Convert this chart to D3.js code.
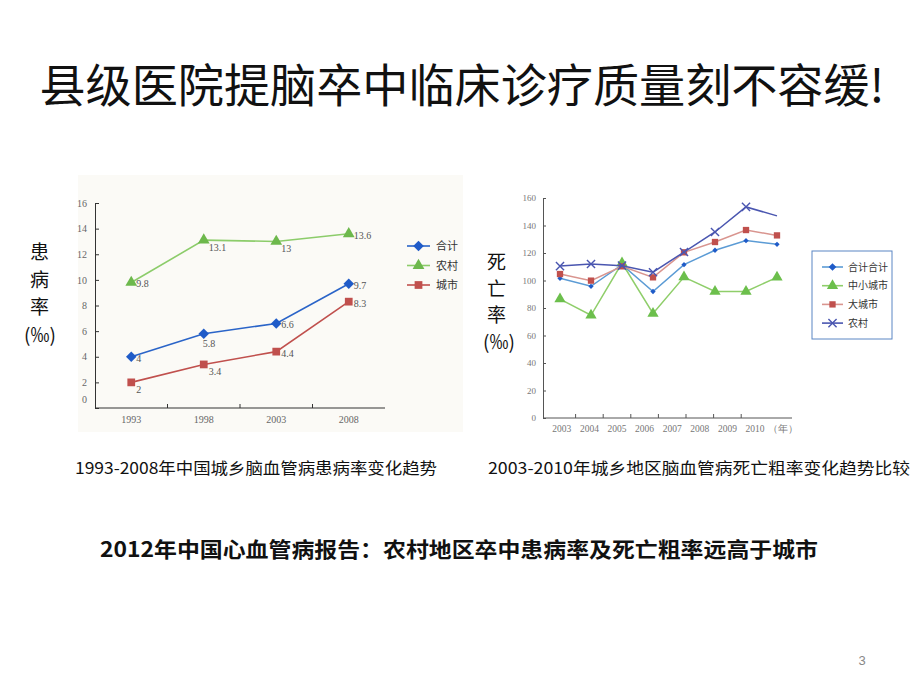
<!DOCTYPE html>
<html><head><meta charset="utf-8">
<script src="https://cdn.jsdelivr.net/npm/d3@7/dist/d3.min.js"></script>
<style>body{margin:0;background:#fff}svg{display:block}</style>
</head><body>
<svg id="c" width="920" height="690"></svg>
<script>
// ---------- data ----------
const leftYears = ["1993","1998","2003","2008"];
const leftTotal = [4, 5.8, 6.6, 9.7];
const leftRural = [9.8, 13.1, 13, 13.6];
const leftUrban = [2, 3.4, 4.4, 8.3];
const leftYTicks = [0,2,4,6,8,10,12,14,16];
const leftNames = ["合计","农村","城市"];

const rightYears = ["2003","2004","2005","2006","2007","2008","2009","2010"];
const rightXLabels = ["2003","2004","2005","2006","2007","2008","2009","2010","（年）"];
const rightTotal = [101.6, 95.8, 111.5, 92, 111.5, 122, 129, 126.3];
const rightSmall = [86.5, 74.7, 112.7, 76, 102.5, 92, 92, 102.3];
const rightLarge = [104.7, 99.9, 110.3, 102.3, 120.5, 128, 136.7, 132.8];
const rightRural = [110.5, 112, 110.8, 106, 120.7, 135.3, 153.5, 147];
const rightYTicks = [0,20,40,60,80,100,120,140,160];
const rightNames = ["合计合计","中小城市","大城市","农村"];

const titleText = "县级医院提脑卒中临床诊疗质量刻不容缓!";
const capLeft = "1993-2008年中国城乡脑血管病患病率变化趋势";
const capRight = "2003-2010年城乡地区脑血管病死亡粗率变化趋势比较";
const bottomText = "2012年中国心血管病报告：农村地区卒中患病率及死亡粗率远高于城市";
const yLabelLeft = ["患","病","率","(‰)"];
const yLabelRight = ["死","亡","率","(‰)"];
const pageNum = "3";

// ---------- drawing ----------
const svg = d3.select("#c");
const CJK = "'Noto Sans CJK SC','Noto Sans',sans-serif";
const SERIF = "'Liberation Serif','DejaVu Serif',serif";

svg.append("text").attr("x", 462).attr("y", 102).attr("text-anchor","middle")
  .attr("font-family", CJK).attr("font-size", 46).attr("font-weight", 400)
  .attr("fill","#111").attr("textLength", 845).attr("lengthAdjust","spacingAndGlyphs")
  .text(titleText);

// rotated-square diamond
const diamondPath = sz => d3.symbol().type(d3.symbolSquare).size(sz)();

// ===== left chart =====
svg.append("rect").attr("x",78).attr("y",175).attr("width",385).attr("height",257).attr("fill","#fbfaf6");
const lx = d3.scaleBand().domain(leftYears).range([95,385]).paddingInner(0);
const ly = d3.scaleLinear().domain([0,16]).range([408,203]);
const lg = svg.append("g");
const lyAxis = lg.append("g").attr("transform","translate(95,0)")
  .call(d3.axisLeft(ly).tickValues(leftYTicks).tickSizeInner(-4).tickSizeOuter(0).tickPadding(8));
lyAxis.selectAll("text").attr("font-family",SERIF).attr("font-size",10).attr("fill","#666")
  .attr("dy", d => d===0 ? "-0.6em" : "0.32em");
lyAxis.selectAll("line,path").attr("stroke","#333");
const lxAxis = lg.append("g").attr("transform","translate(0,408)")
  .call(d3.axisBottom(lx).tickSize(0).tickPadding(8));
lxAxis.selectAll("text").attr("font-family",SERIF).attr("font-size",10).attr("fill","#666");
lxAxis.select("path").attr("stroke","#333").attr("d","M95,0H385");
lg.selectAll(".xsep").data(leftYears.slice(1)).enter().append("line")
  .attr("x1", d=>lx(d)).attr("x2", d=>lx(d)).attr("y1",404).attr("y2",408).attr("stroke","#333");

const leftSeries = [
  {name:leftNames[0], vals:leftTotal, line:"#2a64c8", mark:"#1f5bc8", dia:true, sym:d3.symbolSquare, size:55},
  {name:leftNames[1], vals:leftRural, line:"#8ccc6a", mark:"#6db84c", dia:false, sym:d3.symbolTriangle, size:60},
  {name:leftNames[2], vals:leftUrban, line:"#c0504d", mark:"#c0504d", dia:false, sym:d3.symbolSquare, size:60}
];
// label placement: r = right, b = below, q = below-right
const leftPlace = [["r","b","r","r"],["r","q","q","r"],["q","q","r","r"]];
const offX = {r:5, b:-1, q:5}, offY = {r:5, b:13, q:11};
const lcx = d => lx(d) + lx.bandwidth()/2;
leftSeries.forEach((s,si) => {
  const pts = leftYears.map((y,i)=>[lcx(y), ly(s.vals[i])]);
  lg.append("path").attr("d", d3.line()(pts)).attr("fill","none").attr("stroke",s.line).attr("stroke-width",1.6);
  const rot = s.dia ? " rotate(45)" : "";
  lg.selectAll(null).data(pts).enter().append("path")
    .attr("transform", p=>`translate(${p[0]},${p[1]})${rot}`)
    .attr("d", d3.symbol().type(s.sym).size(s.size)).attr("fill",s.mark);
  lg.selectAll(null).data(pts).enter().append("text")
    .attr("x", (p,i)=> p[0] + offX[leftPlace[si][i]])
    .attr("y", (p,i)=> p[1] + offY[leftPlace[si][i]])
    .attr("font-family",SERIF).attr("font-size",10).attr("fill","#555")
    .text((p,i)=> s.vals[i]);
  // legend
  const ly0 = 246 + si*19.5;
  lg.append("line").attr("x1",407).attr("x2",430).attr("y1",ly0).attr("y2",ly0).attr("stroke",s.line).attr("stroke-width",1.6);
  lg.append("path").attr("transform",`translate(418.5,${ly0})${rot}`).attr("d", d3.symbol().type(s.sym).size(s.size)).attr("fill",s.mark);
  lg.append("text").attr("x",436).attr("y",ly0+4).attr("font-family",CJK).attr("font-size",11).attr("fill","#333").text(s.name);
});

// ===== right chart =====
const rxl = d3.scaleBand().domain(rightXLabels).range([548,796.4]).paddingInner(0);
const rx = d3.scalePoint().domain(rightYears).range([560,777]);
const ry = d3.scaleLinear().domain([0,160]).range([418,198]);
const rg = svg.append("g");
const ryAxis = rg.append("g").attr("transform","translate(543,0)")
  .call(d3.axisLeft(ry).tickValues(rightYTicks).tickSizeInner(-3).tickSizeOuter(0).tickPadding(7));
ryAxis.selectAll("text").attr("font-family",SERIF).attr("font-size",9).attr("fill","#777");
ryAxis.selectAll("line,path").attr("stroke","#555");
const rxAxis = rg.append("g").attr("transform","translate(0,418)")
  .call(d3.axisBottom(rxl).tickSize(0).tickPadding(7));
rxAxis.selectAll("text").attr("font-family",SERIF).attr("font-size",9.5).attr("fill","#777");
rxAxis.select("path").attr("stroke","#555").attr("d","M543,0H792");
rg.selectAll(".xsep").data(rightXLabels.slice(1,8)).enter().append("line")
  .attr("x1", d=>rxl(d)).attr("x2", d=>rxl(d)).attr("y1",414).attr("y2",418).attr("stroke","#555");

const rightSeries = [
  {name:rightNames[0], vals:rightTotal, line:"#5b9bd5", mark:"#1f5bc8", dia:true, sym:d3.symbolSquare, size:14},
  {name:rightNames[1], vals:rightSmall, line:"#8fce6a", mark:"#6cbf4c", dia:false, sym:d3.symbolTriangle, size:55},
  {name:rightNames[2], vals:rightLarge, line:"#d9958f", mark:"#c0504d", dia:false, sym:d3.symbolSquare, size:40},
  {name:rightNames[3], vals:rightRural, line:"#4a56b0", mark:"#4a56b0", dia:false, sym:d3.symbolX, size:45}
];
rightSeries.forEach((s,si) => {
  const pts = rightYears.map((y,i)=>[rx(y), ry(s.vals[i])]);
  rg.append("path").attr("d", d3.line()(pts)).attr("fill","none").attr("stroke",s.line).attr("stroke-width",1.5);
  const mpts = si===3 ? pts.slice(0,7) : pts;
  const rot = s.dia ? " rotate(45)" : "";
  rg.selectAll(null).data(mpts).enter().append("path")
    .attr("transform", p=>`translate(${p[0]},${p[1]})${rot}`)
    .attr("d", d3.symbol().type(s.sym).size(s.size))
    .attr("fill", si===3 ? "none" : s.mark).attr("stroke", si===3 ? s.mark : "none").attr("stroke-width",1.4);
});
// legend
rg.append("rect").attr("x",812).attr("y",251).attr("width",80).attr("height",88).attr("fill","#fff").attr("stroke","#5a86c4").attr("stroke-width",1);
rightSeries.forEach((s,si) => {
  const y0 = 267 + si*18.7;
  const rot = s.dia ? " rotate(45)" : "";
  rg.append("line").attr("x1",822).attr("x2",843).attr("y1",y0).attr("y2",y0).attr("stroke",s.line).attr("stroke-width",1.6);
  rg.append("path").attr("transform",`translate(832.5,${y0})${rot}`)
    .attr("d", d3.symbol().type(s.sym).size(si===0?30:s.size))
    .attr("fill", si===3 ? "none" : s.mark).attr("stroke", si===3 ? s.mark : "none").attr("stroke-width",1.4);
  rg.append("text").attr("x",848).attr("y",y0+3.5).attr("font-family",CJK).attr("font-size",10).attr("fill","#333").text(s.name);
});

// y labels
yLabelLeft.forEach((t,i)=>{
  svg.append("text").attr("x", i<3?30:24).attr("y", 259 + i*27.5).attr("font-family",CJK).attr("font-size",19).attr("fill","#111").text(t);
});
yLabelRight.forEach((t,i)=>{
  svg.append("text").attr("x", i<3?487:483).attr("y", 269 + i*26.5).attr("font-family",CJK).attr("font-size",19).attr("fill","#111").text(t);
});

// captions
svg.append("text").attr("x",75).attr("y",474).attr("font-family",CJK).attr("font-size",16).attr("fill","#111")
  .attr("textLength",362).attr("lengthAdjust","spacingAndGlyphs").text(capLeft);
svg.append("text").attr("x",488).attr("y",474).attr("font-family",CJK).attr("font-size",16).attr("fill","#111")
  .attr("textLength",422).attr("lengthAdjust","spacingAndGlyphs").text(capRight);
svg.append("text").attr("x",100).attr("y",557).attr("font-family",CJK).attr("font-size",21).attr("font-weight",700).attr("fill","#111")
  .attr("textLength",718).attr("lengthAdjust","spacingAndGlyphs").text(bottomText);
svg.append("text").attr("x",862).attr("y",665).attr("text-anchor","middle").attr("font-family","'Liberation Sans',sans-serif").attr("font-size",13).attr("fill","#888").text(pageNum);
</script>
</body></html>
